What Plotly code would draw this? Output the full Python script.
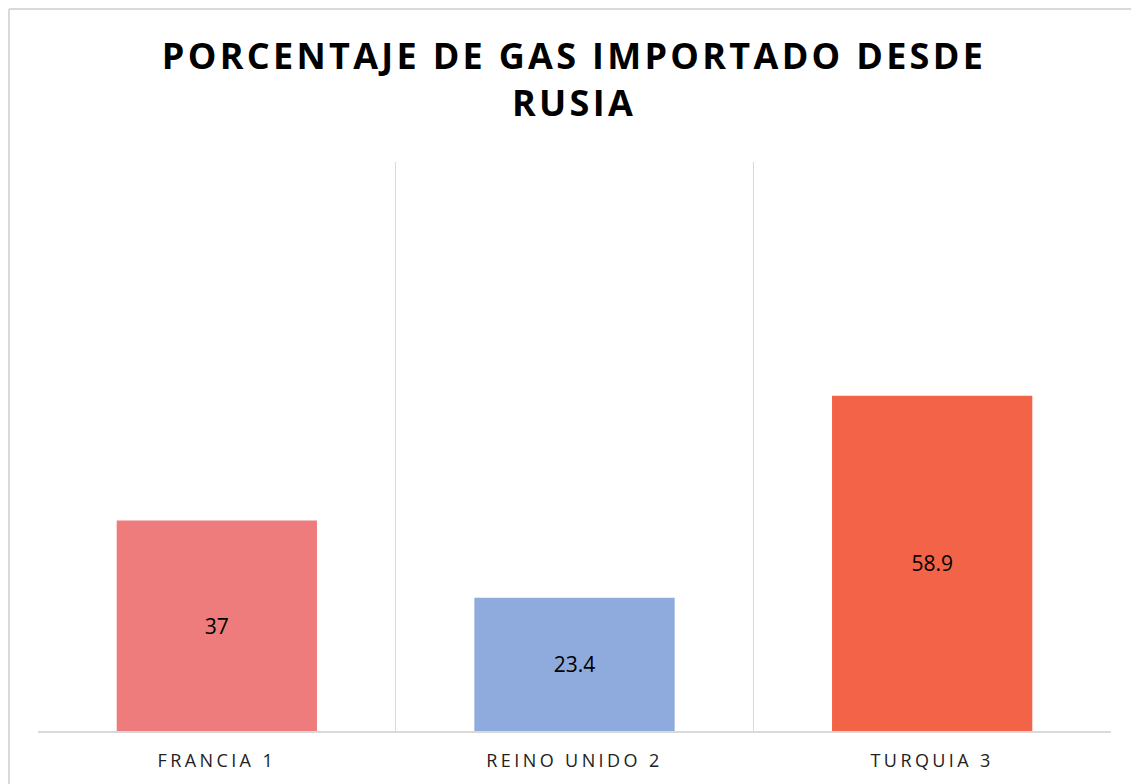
import plotly.graph_objects as go

categories = ["FRANCIA 1", "REINO UNIDO 2", "TURQUIA 3"]
values = [37, 23.4, 58.9]
labels = ["37", "23.4", "58.9"]
colors = ["#EF7C7C", "#8FAADC", "#F26347"]

W, H = 1139, 784
OFF = 8  # page body margin
FW, FH = W - OFF, H - OFF  # figure size so the page does not overflow
# target plot area in page pixels
PX0, PX1, PY0, PY1 = 38, 1111, 162, 731
L = PX0 - OFF
R = W - PX1
T = PY0 - OFF
B = H - PY1
pw, ph = PX1 - PX0, PY1 - PY0

fig = go.Figure(go.Bar(
    x=categories, y=values, text=labels,
    marker=dict(color=colors, line=dict(width=0)),
    textposition="inside", insidetextanchor="middle",
    textfont=dict(family="Open Sans", size=21, color="#000000"),
    width=0.56,
))

fig.update_layout(
    width=FW, height=FH,
    margin=dict(l=L, r=R, t=T, b=B),
    paper_bgcolor="white", plot_bgcolor="white",
    title=dict(
        text="PORCENTAJE DE GAS IMPORTADO DESDE<br>RUSIA",
        x=(574 - OFF) / FW, xanchor="center", y=1 - 61 / FH, yanchor="middle",
        font=dict(family="Open Sans", size=36, color="#000000", weight="bold"),
    ),
    showlegend=False,
    uniformtext=dict(mode=False),
)
fig.update_xaxes(
    type="category", tickson="boundaries", showgrid=True, gridcolor="#D9D9D9", gridwidth=1,
    showline=True, linecolor="#D9D9D9", linewidth=1.5, ticks="",
    tickfont=dict(family="Open Sans", size=18, color="#222222"),
    ticklabelstandoff=13,
    range=[-0.5, 2.5],
)
fig.update_yaxes(range=[0, 100], showgrid=False, showticklabels=False, zeroline=False, showline=False)

# outer chart border: top and left edges only (others fall outside the view)
bx0 = (OFF + 1 - PX0) / pw
by1 = (PY1 - OFF - 1) / ph
fig.add_shape(type="line", xref="paper", yref="paper",
              x0=bx0, x1=(W + 20 - PX0) / pw, y0=by1, y1=by1,
              line=dict(color="#D9D9D9", width=2), layer="below")
fig.add_shape(type="line", xref="paper", yref="paper",
              x0=bx0, x1=bx0, y0=by1, y1=(PY1 - H - 20) / ph,
              line=dict(color="#D9D9D9", width=2), layer="below")

post = """
function sp(){
  document.querySelectorAll('.gtitle').forEach(function(e){e.style.letterSpacing='3.3px';});
  document.querySelectorAll('.xtick text').forEach(function(e){e.style.letterSpacing='3.4px';});
}
sp();
"""
fig.write_html("out.html", post_script=post)
